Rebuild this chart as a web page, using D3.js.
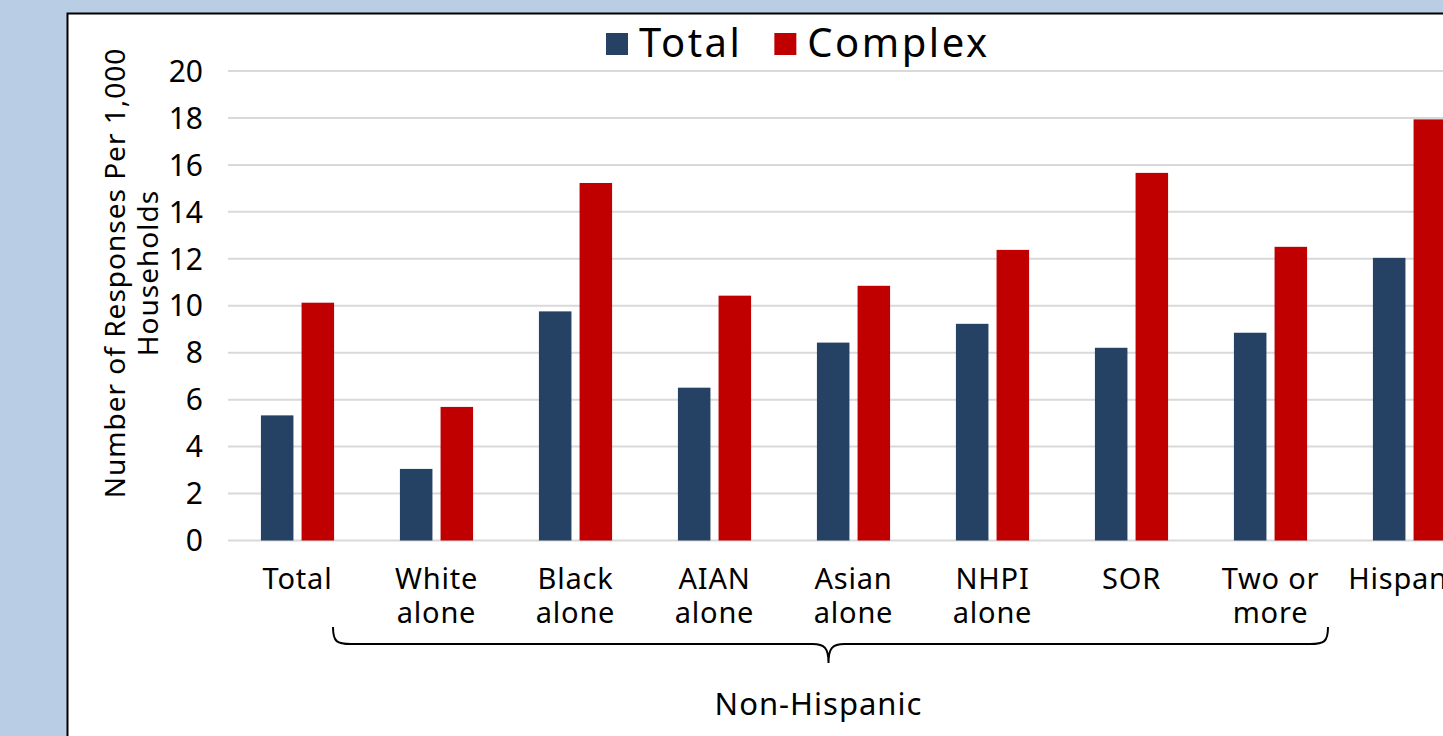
<!DOCTYPE html>
<html>
<head>
<meta charset="utf-8">
<script src="https://cdn.jsdelivr.net/npm/d3@7"></script>
<style>
  html, body { margin: 0; padding: 0; background: #B9CDE5; }
  svg { display: block; }
  text { font-family: "Noto Sans", "Open Sans", sans-serif; fill: #000; }
</style>
</head>
<body>
<svg id="chart" width="1443" height="736"></svg>
<script>
// Responses per 1,000 households, by race / Hispanic origin
const categories = ["Total", "White alone", "Black alone", "AIAN alone", "Asian alone",
                    "NHPI alone", "SOR", "Two or more", "Hispanic"];
const categoryLines = [["Total"], ["White", "alone"], ["Black", "alone"], ["AIAN", "alone"],
                       ["Asian", "alone"], ["NHPI", "alone"], ["SOR"], ["Two or", "more"], ["Hispanic"]];
const seriesNames = ["Total", "Complex"];
const totalValues   = [5.33, 3.05, 9.76, 6.51, 8.43, 9.23, 8.21, 8.85, 12.04];
const complexValues = [10.13, 5.69, 15.23, 10.43, 10.85, 12.38, 15.66, 12.51, 17.94];
const yTicks = [0, 2, 4, 6, 8, 10, 12, 14, 16, 18, 20];
const yTitleLines = ["Number of Responses Per 1,000", "Households"];
const groupLabel = "Non-Hispanic";
const groupMembers = ["White alone", "Two or more"];

const colors = { Total: "#254163", Complex: "#C00000" };

const svg = d3.select("#chart");

// White plot panel with black frame (extends past the right/bottom edge)
svg.append("rect")
  .attr("x", 67.5).attr("y", 13.5)
  .attr("width", 1500).attr("height", 800)
  .attr("fill", "#fff").attr("stroke", "#000").attr("stroke-width", 2);

const x = d3.scaleBand().domain(categories).range([228, 1479]).padding(0);
const xs = d3.scaleBand().domain(seriesNames).range([0, x.bandwidth()])
  .paddingInner(0.2).paddingOuter(0.81);
const y = d3.scaleLinear().domain([0, 20]).range([540.5, 71]);

// Horizontal gridlines
svg.append("g").selectAll("line").data(yTicks).join("line")
  .attr("x1", 228).attr("x2", 1500)
  .attr("y1", d => y(d)).attr("y2", d => y(d))
  .attr("stroke", "#D9D9D9").attr("stroke-width", 2);

// Y tick labels
svg.append("g").selectAll("text").data(yTicks).join("text")
  .attr("x", 203).attr("y", d => y(d) + 10.7)
  .attr("text-anchor", "end")
  .style("font-size", "30px")
  .text(d => d);

// Bars
const rows = categories.map((c, i) => ({ cat: c, Total: totalValues[i], Complex: complexValues[i] }));
const groups = svg.append("g").selectAll("g").data(rows).join("g")
  .attr("transform", d => `translate(${x(d.cat)},0)`);
groups.selectAll("rect")
  .data(d => seriesNames.map(s => ({ s, v: d[s] })))
  .join("rect")
  .attr("x", d => xs(d.s))
  .attr("width", xs.bandwidth())
  .attr("y", d => y(d.v))
  .attr("height", d => y(0) - y(d.v))
  .attr("fill", d => colors[d.s]);

// Category labels (one or two lines, each its own text element)
const labelData = [];
categories.forEach((c, i) => {
  categoryLines[i].forEach((line, j) => labelData.push({ c, line, j }));
});
svg.append("g").selectAll("text").data(labelData).join("text")
  .attr("x", d => x(d.c) + x.bandwidth() / 2)
  .attr("y", d => 589 + d.j * 34)
  .attr("text-anchor", "middle")
  .style("font-size", "29px").style("letter-spacing", "0.8px")
  .text(d => d.line);

// Brace under the Non-Hispanic categories
const bL = x(groupMembers[0]) - 34;
const bR = x(groupMembers[1]) + x.bandwidth() - 12;
const bM = (bL + bR) / 2 - 2;
const yTop = 627, yMid = 644, yTip = 663, r = 18;
const bracePath = d3.path();
bracePath.moveTo(bL, yTop);
bracePath.bezierCurveTo(bL, yMid - 2, bL + 4, yMid, bL + r, yMid);
bracePath.lineTo(bM - r + 2, yMid);
bracePath.bezierCurveTo(bM - 4, yMid, bM, yMid + 4, bM, yTip);
bracePath.bezierCurveTo(bM, yMid + 4, bM + 4, yMid, bM + r - 2, yMid);
bracePath.lineTo(bR - r, yMid);
bracePath.bezierCurveTo(bR - 4, yMid, bR, yMid - 2, bR, yTop);
svg.append("path").attr("d", bracePath.toString())
  .attr("fill", "none").attr("stroke", "#000").attr("stroke-width", 2);

svg.append("text")
  .attr("x", bM - 10).attr("y", 715)
  .attr("text-anchor", "middle")
  .style("font-size", "31px").style("letter-spacing", "1px")
  .text(groupLabel);

// Y axis title (two lines, rotated)
const yt = svg.append("text")
  .attr("transform", "translate(0,273) rotate(-90)")
  .attr("text-anchor", "middle")
  .style("font-size", "28px").style("letter-spacing", "1px");
yTitleLines.forEach((line, j) => {
  yt.append("tspan").attr("x", 0).attr("y", 125 + j * 33).text(line);
});

// Legend
const legend = svg.append("g");
let lx = 606;
seriesNames.forEach(s => {
  legend.append("rect").attr("x", lx).attr("y", 33).attr("width", 22).attr("height", 22)
    .attr("fill", colors[s]);
  const t = legend.append("text").attr("x", lx + 33).attr("y", 57)
    .style("font-size", "40px").style("letter-spacing", "2.5px").text(s);
  lx += 33 + t.node().getComputedTextLength() + 32;
});
</script>
</body>
</html>
